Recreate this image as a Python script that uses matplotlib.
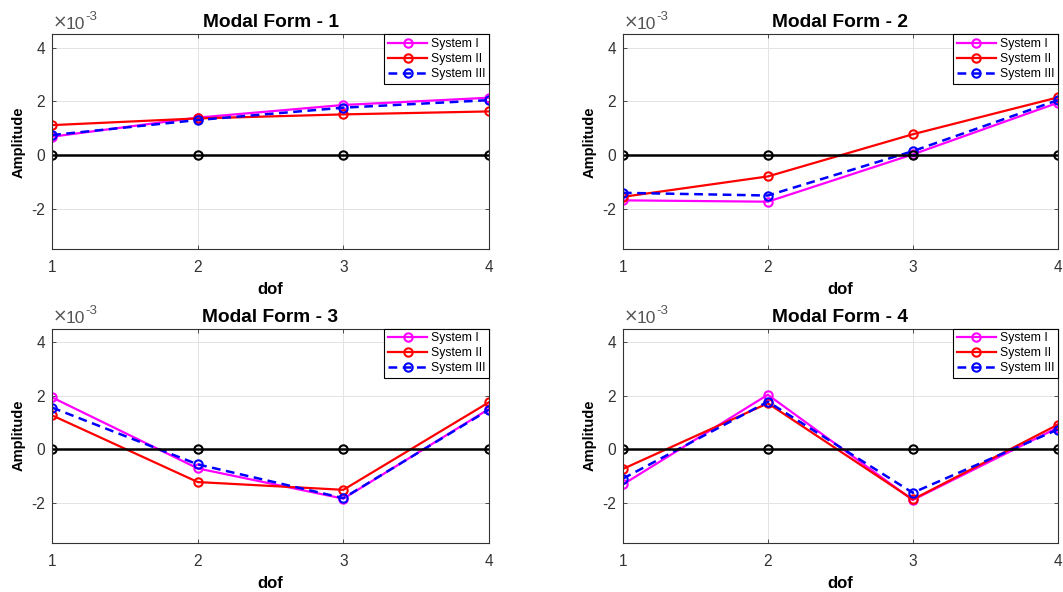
import matplotlib
matplotlib.use('Agg')
import matplotlib.pyplot as plt

plt.rcParams['font.family'] = ['Liberation Sans', 'DejaVu Sans']
plt.rcParams['axes.unicode_minus'] = False

# data (amplitudes in units of 1e-3)
dof = [1, 2, 3, 4]
labels = ['System I', 'System II', 'System III']

mode1_sys1 = [0.69, 1.40, 1.87, 2.14]
mode1_sys2 = [1.12, 1.37, 1.52, 1.63]
mode1_sys3 = [0.75, 1.31, 1.77, 2.05]

mode2_sys1 = [-1.68, -1.73, 0.03, 1.95]
mode2_sys2 = [-1.55, -0.79, 0.78, 2.15]
mode2_sys3 = [-1.40, -1.50, 0.15, 2.05]

mode3_sys1 = [1.93, -0.72, -1.85, 1.50]
mode3_sys2 = [1.26, -1.23, -1.52, 1.75]
mode3_sys3 = [1.55, -0.57, -1.83, 1.47]

mode4_sys1 = [-1.32, 2.03, -1.90, 0.80]
mode4_sys2 = [-0.74, 1.71, -1.88, 0.91]
mode4_sys3 = [-1.10, 1.77, -1.63, 0.73]

zero = [0, 0, 0, 0]

modes = [(mode1_sys1, mode1_sys2, mode1_sys3),
         (mode2_sys1, mode2_sys2, mode2_sys3),
         (mode3_sys1, mode3_sys2, mode3_sys3),
         (mode4_sys1, mode4_sys2, mode4_sys3)]

fig = plt.figure(figsize=(10.63, 5.92), dpi=100)

positions = [[0.049, 0.579, 0.411, 0.363],
             [0.586, 0.579, 0.409, 0.363],
             [0.049, 0.083, 0.411, 0.362],
             [0.586, 0.083, 0.409, 0.362]]

gray = '#333333'

for k, (s1, s2, s3) in enumerate(modes):
    ax = fig.add_axes(positions[k])
    ax.plot(dof, s1, '-o', color='magenta', lw=1.6, ms=6, mew=1.5,
            mfc='none', label=labels[0])
    ax.plot(dof, s2, '-o', color='red', lw=1.6, ms=6, mew=1.5,
            mfc='none', label=labels[1])
    ax.plot(dof, s3, 'o', ls=(0, (3.5, 2.2)), color='blue', lw=1.8, ms=6,
            mew=1.5, mfc='none', label=labels[2])
    ax.plot(dof, zero, '-o', color='black', lw=1.8, ms=6, mew=1.5,
            mfc='none')

    ax.set_xlim(1, 4)
    ax.set_ylim(-3.5, 4.5)
    ax.set_xticks(dof)
    ax.set_yticks([-2, 0, 2, 4])
    ax.grid(True, color='#e3e3e3', lw=0.7)
    ax.set_axisbelow(True)
    for sp in ax.spines.values():
        sp.set_color(gray)
        sp.set_linewidth(0.8)
    ax.tick_params(direction='in', length=3, width=0.6, colors=gray,
                   labelsize=11.2, top=True, right=True)
    ax.tick_params(axis='x', pad=8)
    ax.tick_params(axis='y', pad=5)

    ax.set_title('Modal Form - %d' % (k + 1), fontsize=13.8,
                 fontweight='bold', pad=5)
    ax.set_xlabel('dof', fontsize=12, fontweight='bold', labelpad=5)
    ax.set_ylabel('Amplitude', fontsize=10.5, fontweight='bold', labelpad=4)

    # MATLAB style exponent label
    ax.annotate('\u00d7', xy=(0, 1), xycoords='axes fraction',
                xytext=(0.5, 2), textcoords='offset points',
                ha='left', va='bottom', fontsize=12.5, color='#555555',
                family='DejaVu Sans')
    ax.annotate('10', xy=(0, 1), xycoords='axes fraction',
                xytext=(10, 2), textcoords='offset points',
                ha='left', va='bottom', fontsize=12.5, color='#555555')
    ax.annotate('-3', xy=(0, 1), xycoords='axes fraction',
                xytext=(24, 8.5), textcoords='offset points',
                ha='left', va='bottom', fontsize=9.5, color='#555555')

    leg = ax.legend(loc='upper right', fontsize=8.8, borderaxespad=0,
                    fancybox=False, edgecolor='black', framealpha=1,
                    handlelength=3.2, labelspacing=0.25, borderpad=0.3,
                    handletextpad=0.3)
    leg.get_frame().set_linewidth(0.8)

fig.savefig('out.png', dpi=100)
